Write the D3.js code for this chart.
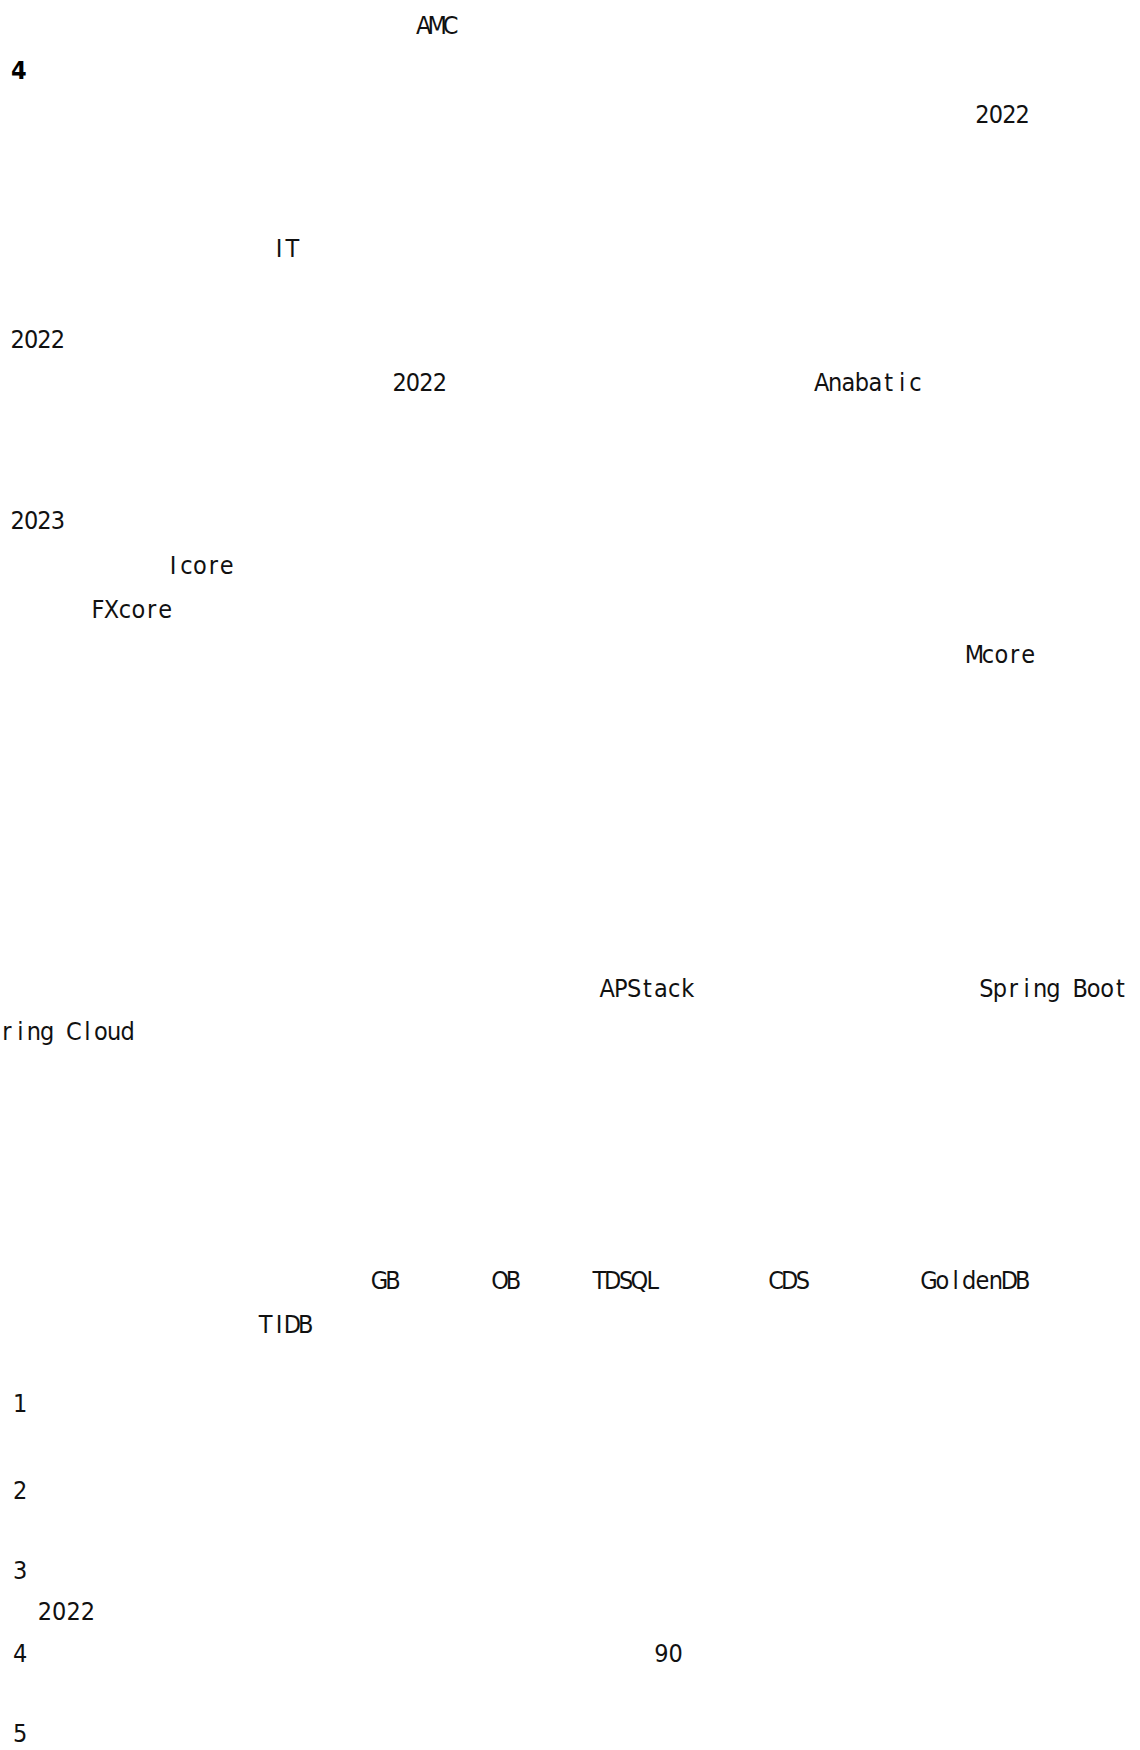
<!DOCTYPE html>
<html><head><meta charset="utf-8">
<script src="https://cdn.jsdelivr.net/npm/d3@7"></script>
<style>html,body{margin:0;padding:0;background:#fff;overflow:hidden}</style>
</head><body>
<svg id="c" width="1140" height="1750"></svg>
<script>
// Latin fragments of the page body (half-width, fixed pitch)
const bodyText = ["AMC","2022","IT","2022","2022","Anabatic","2023","Icore","FXcore","Mcore","APStack","Spring Boot","ring Cloud","GB","OB","TDSQL","CDS","GoldenDB","TIDB"];
const bodyLine = [0,2,5,7.05,8,8,11.1,12.1,13.1,14.1,21.6,21.6,22.55,28.13,28.13,28.13,28.13,28.13,29.13];
const bodyCol  = [30.3,72,19.5,0,28.5,60,0,11.6,6,71.4,44,72.3,-0.8,27,36,43.4,56.6,68,18.5];
// section heading number
const headText = ["4"];
const headLine = [1];
const headCol  = [0];
// numbered list fragments
const listText = ["1","2","3","2022","4","90","5"];
const listLine = [30.9,32.85,34.65,35.55,36.5,36.5,38.3];
const listCol  = [0.15,0.15,0.15,2,0.15,48,0.15];

const svg = d3.select("#c");
svg.append("rect").attr("width",1140).attr("height",1750).attr("fill","#fff");
const x = d3.scaleLinear().domain([0,1]).range([11,24.4]);
const y = d3.scaleLinear().domain([0,1]).range([34,78.6]);

const body = bodyText.map((t,i)=>({t, line:bodyLine[i], col:bodyCol[i]}));
svg.append("g").selectAll("text").data(body).join("text")
  .attr("x", d => Array.from(d.t).map((c,k)=>x(d.col+k+0.5)).join(" "))
  .attr("y", d => y(d.line))
  .attr("text-anchor","middle")
  .style("font-family","'DejaVu Sans Condensed','DejaVu Sans',sans-serif")
  .style("font-stretch","condensed")
  .style("font-size","25px")
  .attr("fill","#111")
  .text(d=>d.t);

const head = headText.map((t,i)=>({t, line:headLine[i], col:headCol[i]}));
svg.append("g").selectAll("text").data(head).join("text")
  .attr("x", d => x(d.col))
  .attr("y", d => y(d.line))
  .style("font-family","'DejaVu Sans Condensed','DejaVu Sans',sans-serif")
  .style("font-stretch","condensed")
  .style("font-weight","bold")
  .style("font-size","25px")
  .attr("fill","#000")
  .text(d=>d.t);

const list = listText.map((t,i)=>({t, line:listLine[i], col:listCol[i]}));
svg.append("g").selectAll("text").data(list).join("text")
  .attr("x", d => x(d.col))
  .attr("y", d => y(d.line))
  .style("font-family","'Liberation Sans Narrow','DejaVu Sans Condensed',sans-serif")
  .style("font-stretch","condensed")
  .style("font-size","25px")
  .attr("fill","#111")
  .text(d=>d.t);
</script>
</body></html>
